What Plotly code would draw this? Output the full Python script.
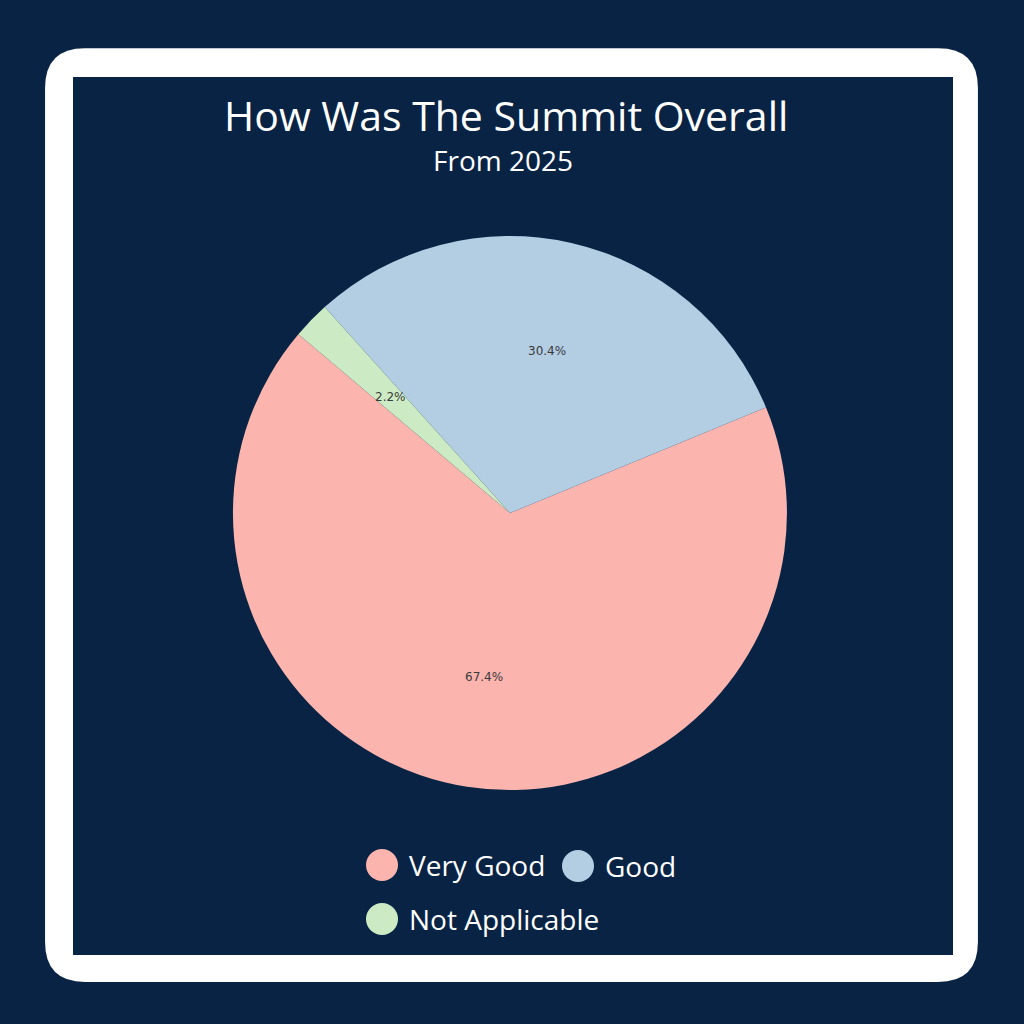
import numpy as np
import plotly.graph_objects as go

# survey answers (counts read from the slice percentages)
labels = ["Very Good", "Good", "Not Applicable"]
counts = [31, 14, 1]
colors = ["#fbb4ae", "#b3cde3", "#ccebc5"]

title = "How Was The Summit Overall"
subtitle = "From 2025"

navy = "#082344"
start_deg = 139.8          # where the first slice starts (math angle, ccw)

# pie placement in paper coords
cx, cy, r = 0.498, 0.499, 0.2705

total = sum(counts)
# plotly's ccw pies are pinned at the end of the first slice
rot = 90 - (start_deg + counts[0] / total * 360)
rot = (rot + 360) % 360

fig = go.Figure()
fig.add_trace(go.Pie(
    labels=labels, values=counts, sort=False,
    direction="counterclockwise", rotation=rot,
    marker=dict(colors=colors, line=dict(width=0)),
    textinfo="none", hoverinfo="label+percent", showlegend=False,
    domain=dict(x=[cx - r, cx + r], y=[cy - r, cy + r]),
))

# percentage labels at 0.6 of the radius, like matplotlib's autopct
acc = 0
ann = []
for n in counts:
    mid = np.radians(start_deg + (acc + n / 2) / total * 360)
    acc += n
    ann.append(dict(
        x=cx + 0.6 * r * np.cos(mid), y=cy + 0.6 * r * np.sin(mid),
        xref="paper", yref="paper", showarrow=False,
        xanchor="center", yanchor="middle",
        text=f"{n / total * 100:.1f}%",
        font=dict(family="DejaVu Sans", size=12, color="#3a3a3a"),
    ))

ann.append(dict(x=0.494, y=1 - 115 / 1024, xref="paper", yref="paper", showarrow=False,
                xanchor="center", yanchor="middle",
                text=title, font=dict(family="Open Sans", size=41, color="white")))
ann.append(dict(x=0.491, y=1 - 160 / 1024, xref="paper", yref="paper", showarrow=False,
                xanchor="center", yanchor="middle",
                text=subtitle, font=dict(family="Open Sans", size=28, color="white")))

# legend with round swatches
leg_pos = [(382, 865), (578, 866), (382, 919)]
shapes = [
    # white rounded frame
    dict(type="path", xref="paper", yref="paper", layer="below",
         path="M 0.083,0.953 L 0.916,0.953 Q 0.955,0.953 0.955,0.914 "
              "L 0.955,0.080 Q 0.955,0.041 0.916,0.041 L 0.083,0.041 "
              "Q 0.044,0.041 0.044,0.080 L 0.044,0.914 Q 0.044,0.953 0.083,0.953 Z",
         fillcolor="white", line=dict(width=0)),
    dict(type="rect", xref="paper", yref="paper", layer="below",
         x0=73 / 1024, x1=953 / 1024, y0=1 - 955 / 1024, y1=1 - 77 / 1024,
         fillcolor=navy, line=dict(width=0)),
]
for (px, py), lab, col in zip(leg_pos, labels, colors):
    x, y = px / 1024, 1 - py / 1024
    d = 16 / 1024
    shapes.append(dict(type="circle", xref="paper", yref="paper",
                       x0=x - d, x1=x + d, y0=y - d, y1=y + d,
                       fillcolor=col, line=dict(width=0)))
    ann.append(dict(x=(px + 25) / 1024, y=y, xref="paper", yref="paper",
                    xanchor="left", yanchor="middle", showarrow=False, text=lab,
                    font=dict(family="Open Sans", size=28, color="white")))

fig.update_layout(
    width=1024, height=1024,
    margin=dict(l=0, r=0, t=0, b=0),
    paper_bgcolor=navy, plot_bgcolor=navy,
    shapes=shapes, annotations=ann,
)

fig.write_html("out.html", config={"displayModeBar": False},
               post_script="document.body.style.margin='0';")
